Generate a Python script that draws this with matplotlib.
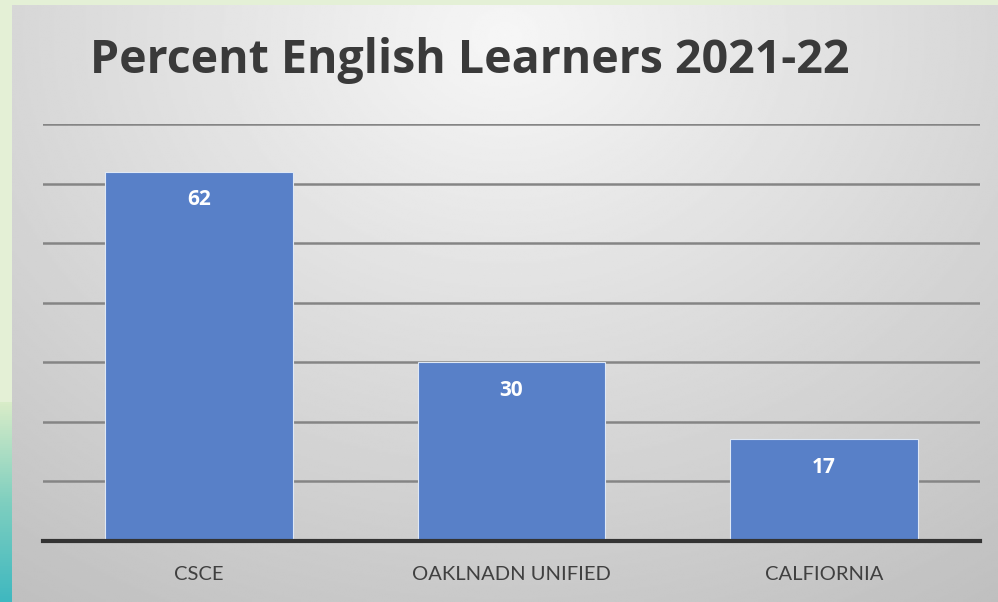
import numpy as np
import matplotlib
matplotlib.use('Agg')
import matplotlib.pyplot as plt

categories = ['CSCE', 'OAKLNADN UNIFIED', 'CALFIORNIA']
values = [62, 30, 17]
title = 'Percent English Learners 2021-22'

plt.rcParams['font.family'] = ['Lato', 'DejaVu Sans']

fig = plt.figure(figsize=(9.98, 6.02), dpi=100)
fig.patch.set_facecolor('#e4f0d6')

# gray panel with a soft gradient (lighter at the top centre)
bg = fig.add_axes([12 / 998, 0, 986 / 998, 597 / 602])
bg.set_axis_off()
yy, xx = np.mgrid[0:1:300j, 0:1:500j]
shade = np.clip(1 - 0.9 * np.hypot((xx - 0.5) * 1.2, (yy - 0.05) * 0.9), 0, 1)
bg.imshow(shade, cmap='gray', vmin=-3.2, vmax=1.15, aspect='auto',
          extent=[0, 1, 1, 0], interpolation='bilinear')

# teal strip at the bottom left
strip = fig.add_axes([0, 0, 12 / 998, 200 / 602])
strip.set_axis_off()
grad = np.linspace(0, 1, 100)[:, None]
strip.imshow(grad, cmap=matplotlib.colors.LinearSegmentedColormap.from_list(
    'teal', ['#d8ecc8', '#7fcfbf', '#3fb8c0']), aspect='auto', extent=[0, 1, 0, 1])

ax = fig.add_axes([43 / 998, 1 - 540.5 / 602, 937 / 998, (540.5 - 124) / 602])
ax.patch.set_alpha(0)
x = np.arange(len(categories))
bars = ax.bar(x, values, width=0.6, color='#5880c8', edgecolor='#dfe8f5',
              linewidth=0.8, zorder=3)
ax.set_xlim(-0.5, 2.5)
ax.set_ylim(0, 70)
ax.set_yticks(np.arange(10, 71, 10))
ax.yaxis.grid(True, color='#858585', linewidth=1.8, zorder=1)
ax.tick_params(axis='y', length=0, labelleft=False)
ax.set_xticks(x, categories)
ax.tick_params(axis='x', length=0, pad=18, labelsize=14.5, labelcolor='#404040')
for s in ['top', 'right', 'left']:
    ax.spines[s].set_visible(False)
ax.spines['bottom'].set_color('#333333')
ax.spines['bottom'].set_linewidth(3)
ax.spines['bottom'].set_zorder(4)

for b, v in zip(bars, values):
    ax.annotate(str(v), (b.get_x() + b.get_width() / 2, v), xytext=(0, -28),
                textcoords='offset pixels', ha='center', va='center',
                color='white', fontsize=15, fontweight='bold',
                family='Open Sans', zorder=5)

fig.text(470 / 998, 1 - 61 / 602, title, ha='center', va='center',
         fontsize=33.5, fontweight='bold', color='#3a3a3a', family='Open Sans')

fig.savefig('out.png', dpi=100)
